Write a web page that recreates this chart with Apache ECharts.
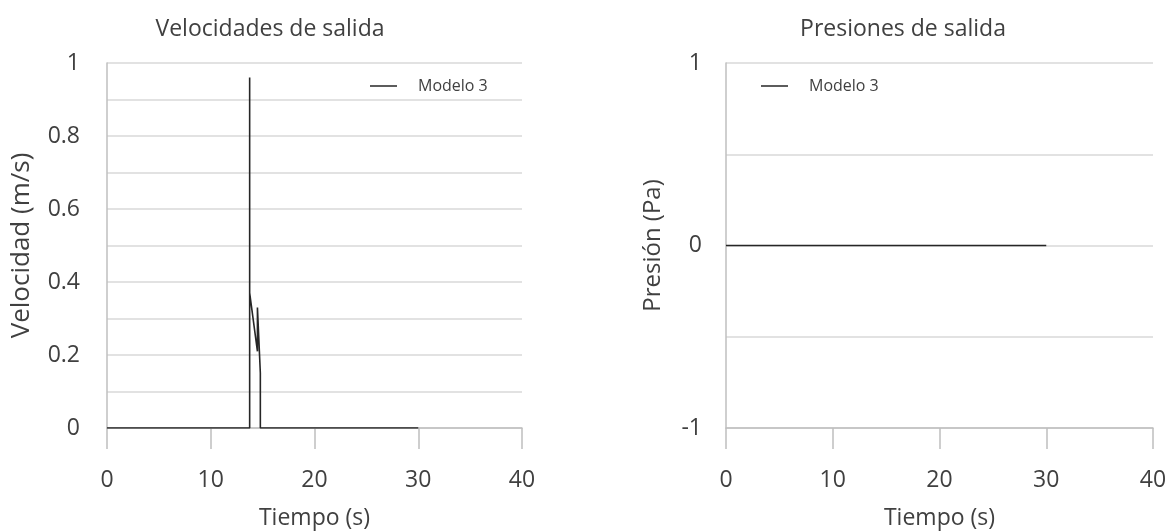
<!DOCTYPE html>
<html>
<head>
<meta charset="utf-8">
<script src="https://cdn.jsdelivr.net/npm/echarts@6/dist/echarts.min.js"></script>
<style>html,body{margin:0;padding:0;background:#fff}#c{width:1169px;height:531px}</style>
</head>
<body>
<div id="c"></div>
<script>
// Velocidades de salida (Modelo 3)
const velTime = [0, 13.75, 13.75, 13.75, 14.5, 14.5, 14.78, 14.78, 30];
const velValue = [0, 0, 0.96, 0.37, 0.21, 0.33, 0.15, 0, 0];
// Presiones de salida (Modelo 3)
const presTime = [0, 30];
const presValue = [0, 0];
const seriesName = 'Modelo 3';
const titles = ['Velocidades de salida', 'Presiones de salida'];
const xName = 'Tiempo (s)';
const yNames = ['Velocidad (m/s)', 'Presión (Pa)'];

const FONT = 'Open Sans';
const TXT = '#404040';
const GRID = '#d9d9d9';
const AX = '#bfbfbf';

const chart = echarts.init(document.getElementById('c'), null, {renderer: 'canvas'});

function xAxis(gi) {
  return {
    type: 'value', gridIndex: gi, min: 0, max: 40, interval: 10,
    name: xName, nameLocation: 'middle', nameGap: 79,
    nameTextStyle: {fontFamily: FONT, fontSize: 23, color: TXT},
    axisLine: {onZero: false, lineStyle: {color: AX, width: 1.5}},
    axisTick: {show: true, length: 21, lineStyle: {color: AX, width: 1.5}},
    axisLabel: {margin: 41, fontFamily: FONT, fontSize: 23, color: TXT},
    splitLine: {show: false}
  };
}

function legend(left) {
  return {left: left, top: 73, icon: 'rect', itemWidth: 27, itemHeight: 1.5,
    itemStyle: {color: '#262626'},
    textStyle: {fontFamily: FONT, fontSize: 16, color: TXT, padding: [0, 0, 0, 16]},
    data: [seriesName]};
}

const option = {
  animation: false,
  backgroundColor: '#fff',
  title: [
    {text: titles[0], left: 265, top: 13, textAlign: 'center',
     textStyle: {fontFamily: FONT, fontSize: 23, fontWeight: 'normal', color: TXT}},
    {text: titles[1], left: 898, top: 13, textAlign: 'center',
     textStyle: {fontFamily: FONT, fontSize: 23, fontWeight: 'normal', color: TXT}}
  ],
  legend: [legend(365), legend(756)],
  grid: [
    {left: 107, right: 1169 - 522, top: 63, bottom: 103, containLabel: false, outerBoundsMode: 'none'},
    {left: 726, right: 1169 - 1153, top: 63, bottom: 103, containLabel: false, outerBoundsMode: 'none'}
  ],
  xAxis: [xAxis(0), xAxis(1)],
  yAxis: [
    {type: 'value', gridIndex: 0, min: 0, max: 1, interval: 0.1,
     name: yNames[0], nameLocation: 'middle', nameGap: 72,
     nameTextStyle: {fontFamily: FONT, fontSize: 26, color: TXT},
     axisLine: {show: true, lineStyle: {color: AX, width: 1.5}},
     axisTick: {show: false},
     axisLabel: {margin: 27, fontFamily: FONT, fontSize: 23, color: TXT,
       formatter: v => { const r = Math.round(v * 10); return r % 2 === 0 ? String(r / 10) : ''; }},
     splitLine: {lineStyle: {color: GRID, width: 1.5}}},
    {type: 'value', gridIndex: 1, min: -1, max: 1, interval: 0.5,
     name: yNames[1], nameLocation: 'middle', nameGap: 61,
     nameTextStyle: {fontFamily: FONT, fontSize: 24, color: TXT},
     axisLine: {show: true, lineStyle: {color: AX, width: 1.5}},
     axisTick: {show: false},
     axisLabel: {margin: 24, fontFamily: FONT, fontSize: 23, color: TXT,
       formatter: v => { const r = Math.round(v * 2); return r % 2 === 0 ? String(r / 2) : ''; }},
     splitLine: {lineStyle: {color: GRID, width: 1.5}}}
  ],
  series: [
    {name: seriesName, type: 'line', xAxisIndex: 0, yAxisIndex: 0,
     data: velTime.map((t, i) => [t, velValue[i]]),
     showSymbol: false, symbol: 'none', lineStyle: {color: '#262626', width: 1.6},
     itemStyle: {color: '#262626'}},
    {name: seriesName, type: 'line', xAxisIndex: 1, yAxisIndex: 1,
     data: presTime.map((t, i) => [t, presValue[i]]),
     showSymbol: false, symbol: 'none', lineStyle: {color: '#262626', width: 1.6},
     itemStyle: {color: '#262626'}}
  ]
};
chart.setOption(option);
</script>
</body>
</html>
